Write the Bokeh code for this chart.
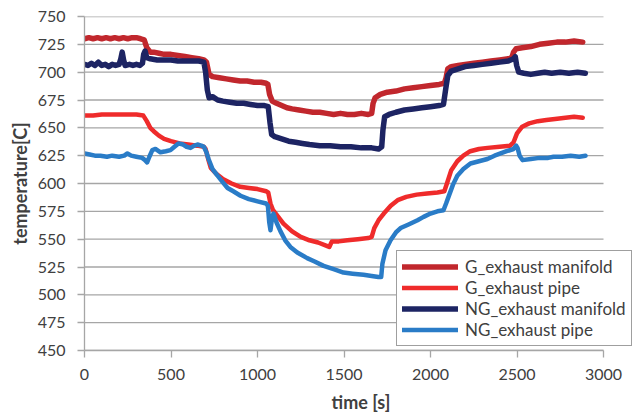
from bokeh.plotting import figure
from bokeh.models import Range1d, FixedTicker, Legend, LegendItem
from bokeh.embed import file_html
from bokeh.resources import INLINE

# ---- data ----
gm_t = [0, 25, 50, 75, 100, 125, 150, 175, 200, 225, 250, 275, 300, 325, 345, 360, 380, 400, 430, 460,
        500, 540, 580, 620, 660, 690, 705, 720, 740, 780, 820, 860, 900, 940, 980, 1020, 1050, 1060,
        1070, 1085, 1110, 1140, 1170, 1200, 1240, 1280, 1320, 1360, 1400, 1440, 1480, 1520, 1560,
        1600, 1640, 1660, 1668, 1680, 1710, 1750, 1800, 1850, 1900, 1950, 2000, 2050, 2080, 2090,
        2100, 2120, 2160, 2200, 2250, 2300, 2350, 2400, 2450, 2470, 2480, 2495, 2530, 2580, 2630,
        2680, 2730, 2780, 2830, 2880]
gm_v = [730, 731, 730, 731, 730, 731, 730, 731, 730, 731, 730, 731, 731, 730, 729, 722, 718, 718, 717, 716,
        716, 715, 714, 713, 712, 711, 709, 698, 696, 695, 694, 693, 692, 692, 691, 691, 690, 689,
        680, 674, 672, 670, 668, 667, 666, 665, 664, 664, 663, 662, 663, 662, 662,
        663, 662, 663, 672, 677, 680, 682, 683, 685, 686, 687, 688, 689, 690, 695,
        703, 705, 706, 707, 708, 709, 710, 711, 712, 713, 718, 721, 722, 723, 725,
        726, 727, 727, 728, 727]

gp_t = [0, 50, 100, 150, 200, 250, 300, 340, 360, 380, 400, 430, 460, 500, 550, 600, 650, 690, 700,
        715, 730, 760, 800, 850, 900, 950, 1000, 1050, 1062, 1075, 1090, 1110, 1150, 1200, 1250,
        1300, 1350, 1400, 1415, 1430, 1470, 1520, 1580, 1640, 1660, 1675, 1700, 1730, 1770, 1810,
        1860, 1920, 1980, 2040, 2080, 2095, 2120, 2155, 2190, 2230, 2280, 2330, 2400, 2460, 2480,
        2500, 2530, 2570, 2620, 2670, 2720, 2780, 2830, 2880]
gp_v = [661, 661, 662, 662, 662, 662, 662, 661, 656, 650, 647, 643, 640, 638, 636, 635, 634, 633, 631,
        622, 614, 609, 604, 600, 597, 596, 595, 593, 592, 582, 576, 572, 564, 557, 552,
        549, 547, 544, 543, 548, 548, 549, 550, 551, 552, 560, 567, 573, 580, 585,
        588, 590, 591, 592, 593, 600, 612, 620, 625, 629, 631, 632, 633, 634, 637,
        645, 651, 654, 656, 657, 658, 659, 660, 659]

nm_t = [0, 20, 40, 60, 80, 100, 120, 140, 160, 180, 200, 210, 218, 226, 235, 260, 280, 300, 320, 335,
        342, 350, 360, 380, 420, 460, 500, 540, 580, 620, 660, 690, 700, 710, 720, 740, 770, 800,
        840, 880, 920, 960, 1000, 1040, 1062, 1072, 1082, 1100, 1140, 1180, 1220, 1260, 1300, 1360,
        1420, 1480, 1540, 1600, 1660, 1700, 1718, 1725, 1735, 1760, 1800, 1850, 1900, 1950, 2000,
        2050, 2075, 2088, 2100, 2120, 2160, 2200, 2250, 2300, 2350, 2400, 2450, 2480, 2490, 2498,
        2510, 2540, 2580, 2620, 2660, 2700, 2750, 2800, 2850, 2895]
nm_v = [707, 706, 708, 706, 709, 706, 707, 705, 707, 706, 707, 712, 718, 711, 706, 707, 706, 707, 706, 708,
        716, 719, 713, 712, 711, 711, 711, 710, 710, 710, 710, 709, 700, 684, 677, 678, 675, 674,
        673, 672, 672, 671, 670, 670, 669, 655, 644, 642, 640, 638, 637, 636, 635, 634,
        634, 633, 633, 632, 632, 631, 633, 648, 660, 662, 664, 666, 667, 668, 669,
        670, 671, 685, 697, 701, 703, 705, 706, 707, 708, 709, 710, 712, 714, 706,
        700, 699, 698, 699, 700, 699, 700, 699, 700, 699]

np_t = [0, 30, 60, 92, 130, 160, 200, 230, 248, 270, 300, 333, 350, 362, 375, 392, 410, 439, 470, 497,
        520, 543, 570, 590, 613, 635, 653, 675, 690, 705, 717, 740, 769, 800, 827, 860, 902, 950,
        1000, 1050, 1060, 1068, 1075, 1083, 1092, 1110, 1133, 1160, 1190, 1230, 1287, 1330, 1382,
        1440, 1497, 1550, 1613, 1660, 1699, 1715, 1722, 1740, 1769, 1800, 1827, 1870, 1925, 1960,
        2000, 2040, 2075, 2090, 2104, 2130, 2155, 2190, 2231, 2280, 2329, 2370, 2405, 2440, 2480,
        2495, 2503, 2515, 2532, 2580, 2630, 2680, 2711, 2760, 2810, 2860, 2896]
np_v = [627, 626, 625, 625, 624, 625, 624, 625, 627, 625, 624, 623, 621, 619, 624, 630, 631, 628, 629, 630,
        633, 636, 635, 633, 632, 634, 635, 634, 633, 628, 622, 613, 607, 601, 596, 593, 589, 586,
        584, 582, 580, 565, 558, 568, 573, 565, 557, 549, 543, 538, 533, 530, 526,
        523, 520, 519, 518, 517, 516, 516, 528, 540, 549, 556, 560, 563, 567, 570,
        573, 575, 576, 582, 588, 599, 607, 613, 618, 620, 622, 625, 627, 629, 631,
        634, 632, 625, 621, 622, 623, 623, 624, 624, 625, 624, 625]

series_names = ["G_exhaust manifold", "G_exhaust pipe", "NG_exhaust manifold", "NG_exhaust pipe"]
x_ticks = [0, 500, 1000, 1500, 2000, 2500, 3000]
y_ticks = [450, 475, 500, 525, 550, 575, 600, 625, 650, 675, 700, 725, 750]

# ---- figure ----
FONT = "Lato"
TXT = "#404040"
GRID = "#a6a6a6"

# the plotted area (0..3000) spans 519 px; the frame runs on to the right window
# edge (553 px) so that the legend can overhang the last tick like in the reference
x_end = x_ticks[-1] * 553.0 / 519.0

p = figure(width=637, height=415, output_backend="svg", toolbar_location=None,
           x_range=Range1d(0, x_end), y_range=Range1d(450, 750),
           min_border_left=84, min_border_right=0, min_border_top=16, min_border_bottom=65)
p.outline_line_color = None
p.background_fill_color = "white"
p.border_fill_color = "white"

p.xgrid.grid_line_color = None
p.ygrid.grid_line_color = None
# horizontal gridlines, stopping at the last x tick
p.segment(x0=[x_ticks[0]] * len(y_ticks), x1=[x_ticks[-1]] * len(y_ticks),
          y0=y_ticks, y1=y_ticks, line_color=GRID, line_width=1.3)

p.xaxis.ticker = FixedTicker(ticks=x_ticks)
p.yaxis.ticker = FixedTicker(ticks=y_ticks)
p.xaxis.bounds = (x_ticks[0], x_ticks[-1])
for ax in (p.xaxis[0], p.yaxis[0]):
    ax.axis_line_color = GRID
    ax.axis_line_width = 1.3
    ax.major_tick_line_color = GRID
    ax.major_tick_line_width = 1.3
    ax.major_tick_out = 7
    ax.major_tick_in = 0
    ax.minor_tick_line_color = None
    ax.major_label_text_font = FONT
    ax.major_label_text_font_size = "16px"
    ax.major_label_text_color = TXT
    ax.axis_label_text_font = FONT
    ax.axis_label_text_font_size = "18px"
    ax.axis_label_text_font_style = "bold"
    ax.axis_label_text_color = TXT

p.xaxis.axis_label = "time [s]"
p.yaxis.axis_label = "temperature[C]"
p.yaxis.major_label_standoff = 12
p.xaxis.major_label_standoff = 11
p.yaxis.axis_label_standoff = 4
p.xaxis.axis_label_standoff = 8

colors = ["#c1272d", "#ef2b2b", "#1d2463", "#2a7cc7"]
widths = [5.5, 4.5, 5.5, 4.5]
data = [(gm_t, gm_v), (gp_t, gp_v), (nm_t, nm_v), (np_t, np_v)]
renderers = []
for (t, v), c, w in zip(data, colors, widths):
    r = p.line(t, v, line_color=c, line_width=w, line_join="round", line_cap="round")
    renderers.append(r)

items = [LegendItem(label=n, renderers=[r]) for n, r in zip(series_names, renderers)]
legend = Legend(items=items, location=(312, 4), orientation="vertical",
                label_text_font=FONT, label_text_font_size="17px", label_text_color=TXT,
                glyph_width=56, glyph_height=19, label_height=19, label_standoff=7,
                spacing=0, padding=5, margin=0,
                border_line_color="#404040", border_line_width=1,
                background_fill_color="white", background_fill_alpha=1.0)
p.add_layout(legend, "center")

open("out.html", "w").write(file_html(p, INLINE))
